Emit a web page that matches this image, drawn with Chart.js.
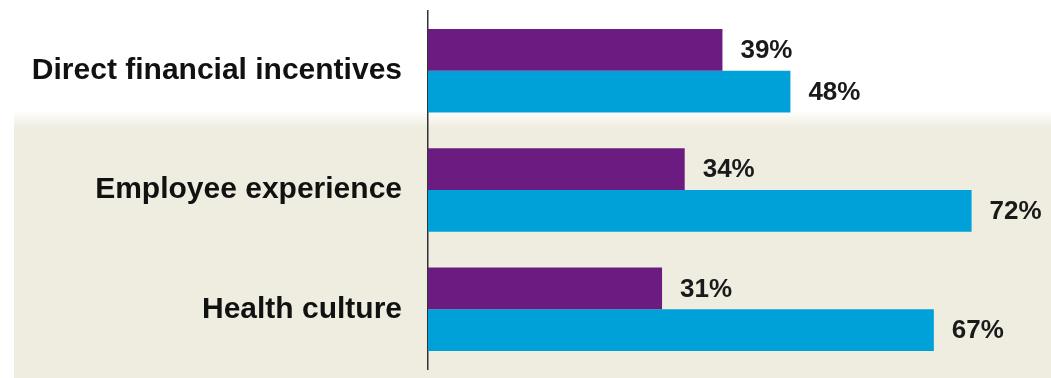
<!DOCTYPE html>
<html>
<head>
<meta charset="utf-8">
<script src="https://cdn.jsdelivr.net/npm/chart.js@4"></script>
<style>
  html, body { margin: 0; padding: 0; background: #fff; }
  #wrap { width: 1051px; height: 378px; position: relative; }
</style>
</head>
<body>
<div id="wrap"><canvas id="chart"></canvas></div>
<script>
const categories = ["Direct financial incentives", "Employee experience", "Health culture"];
const seriesPurple = [39, 34, 31];
const seriesBlue = [48, 72, 67];

const PURPLE = "#6c1c80";
const BLUE = "#00a1d8";
const BEIGE = "#efede0";

// beige panel behind the lower two groups
const panelPlugin = {
  id: "panel",
  beforeDraw(chart) {
    const { ctx, width, height } = chart;
    ctx.save();
    ctx.fillStyle = "#fff";
    ctx.fillRect(0, 0, width, height);
    const g = ctx.createLinearGradient(0, 110, 0, 128);
    g.addColorStop(0, "rgba(239,237,224,0)");
    g.addColorStop(1, BEIGE);
    ctx.fillStyle = g;
    ctx.fillRect(14, 110, width - 14, height - 110);
    ctx.restore();
  },
};

// percentage labels at the end of each bar
const valueLabels = {
  id: "valueLabels",
  afterDatasetsDraw(chart) {
    const { ctx } = chart;
    ctx.save();
    ctx.font = "bold 26px 'Liberation Sans', Arial, sans-serif";
    ctx.fillStyle = "#1a1a1a";
    ctx.textAlign = "left";
    ctx.textBaseline = "middle";
    chart.data.datasets.forEach((ds, i) => {
      chart.getDatasetMeta(i).data.forEach((bar, j) => {
        ctx.fillText(ds.data[j] + "%", bar.x + 18, bar.y + 1);
      });
    });
    ctx.restore();
  },
};

new Chart(document.getElementById("chart"), {
  type: "bar",
  data: {
    labels: categories,
    datasets: [
      { data: seriesPurple, backgroundColor: PURPLE },
      { data: seriesBlue, backgroundColor: BLUE },
    ],
  },
  options: {
    indexAxis: "y",
    responsive: true,
    maintainAspectRatio: false,
    animation: false,
    categoryPercentage: 0.7,
    barPercentage: 1.0,
    layout: { padding: { top: 11, bottom: 9, right: 19 } },
    plugins: { legend: { display: false }, tooltip: { enabled: false } },
    scales: {
      x: { display: false, min: 0, max: 80 },
      y: {
        grid: { display: false, drawTicks: false },
        border: { display: true, color: "#333", width: 1.5 },
        ticks: {
          color: "#111",
          padding: 26,
          font: { family: "'Liberation Sans', Arial, sans-serif", size: 30, weight: "bold" },
        },
        afterFit(scale) {
          scale.width = 428;
          scale.paddingTop = 0;
          scale.paddingBottom = 0;
        },
      },
    },
  },
  plugins: [panelPlugin, valueLabels],
});
</script>
</body>
</html>
